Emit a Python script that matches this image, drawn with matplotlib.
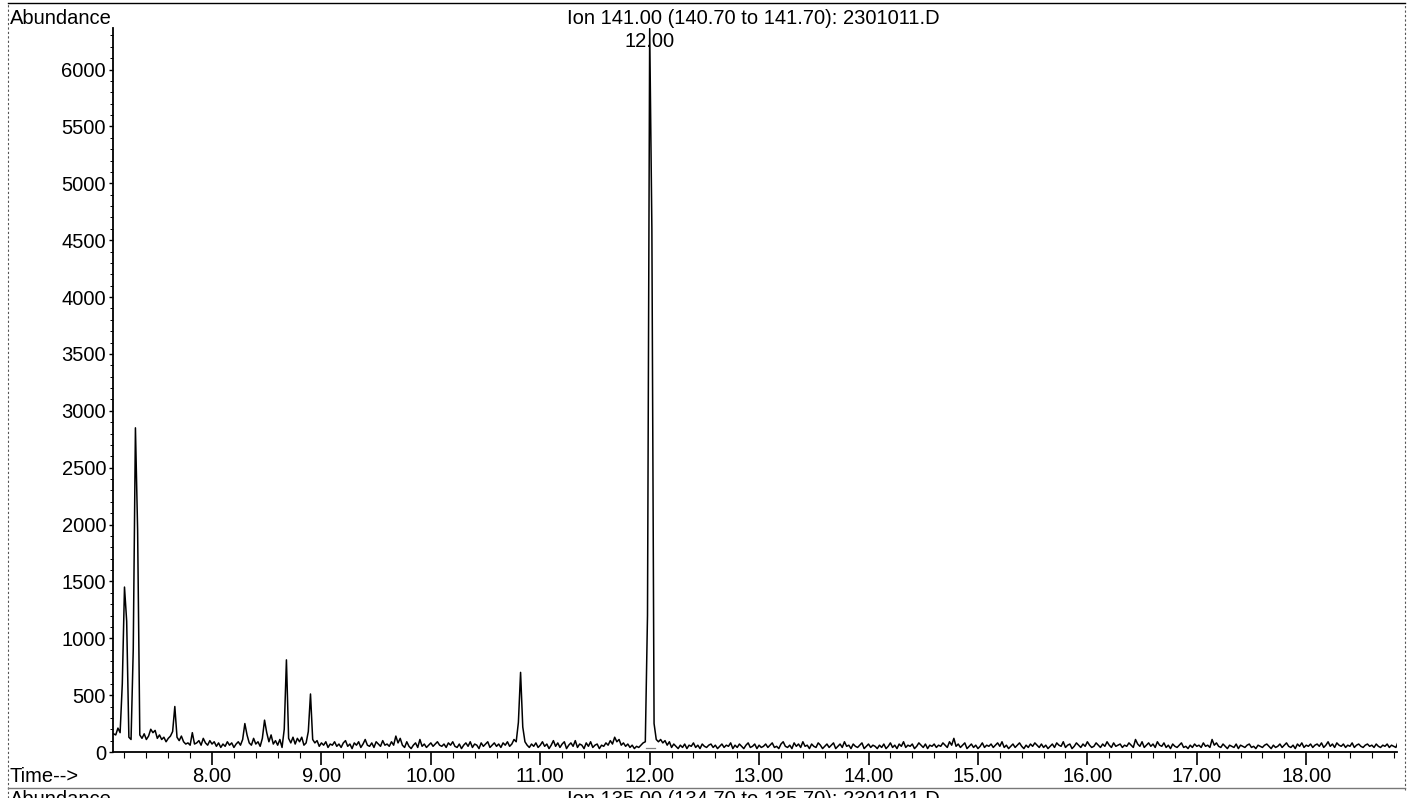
import matplotlib.pyplot as plt
import numpy as np
from matplotlib.lines import Line2D
from matplotlib.ticker import MultipleLocator

plt.rcParams['font.family'] = ['Liberation Sans', 'DejaVu Sans']

# scans every 0.02 min from 7.10 to 18.84, abundance
scan_start = 7.10
scan_step = 0.02
abundance = [
    160, 150, 210, 170, 600, 1450, 1150, 130, 110, 900, 2850, 1950, 150, 120, 160, 110, 140, 200, 170, 190, 120, 150, 110, 130, 90,
    120, 140, 180, 400, 130, 100, 140, 90, 70, 80, 60, 170, 70, 80, 100, 60, 120, 80, 60, 100, 70, 90, 50, 80, 40,
    70, 50, 90, 60, 80, 40, 70, 90, 60, 110, 250, 150, 80, 60, 120, 70, 90, 50, 120, 280, 170, 90, 150, 70, 100,
    60, 110, 40, 200, 810, 120, 80, 130, 70, 120, 90, 130, 60, 80, 180, 510, 110, 80, 100, 50, 80, 60, 90, 40, 70,
    60, 90, 50, 70, 40, 80, 100, 50, 70, 30, 80, 60, 90, 40, 70, 110, 60, 50, 80, 40, 90, 70, 50, 100, 60,
    70, 50, 90, 60, 140, 80, 120, 60, 40, 90, 50, 30, 60, 80, 40, 110, 50, 70, 40, 60, 80, 50, 70, 90, 60,
    50, 70, 40, 80, 60, 90, 50, 40, 70, 30, 60, 80, 50, 90, 40, 70, 60, 30, 80, 50, 70, 90, 40, 60, 80,
    50, 70, 40, 80, 60, 90, 50, 70, 110, 90, 260, 700, 220, 90, 60, 40, 70, 50, 80, 40, 60, 90, 50, 70, 30,
    60, 100, 50, 80, 40, 70, 90, 30, 60, 80, 50, 100, 40, 70, 60, 30, 80, 50, 90, 40, 60, 70, 30, 60, 50,
    80, 60, 100, 70, 130, 90, 110, 60, 80, 50, 70, 40, 60, 30, 50, 40, 60, 80, 90, 1200, 6360, 4600, 250, 110, 90,
    110, 80, 100, 60, 90, 40, 70, 50, 30, 60, 40, 70, 30, 60, 50, 80, 40, 60, 30, 70, 50, 40, 60, 70, 40,
    60, 30, 50, 70, 40, 60, 50, 80, 30, 60, 40, 70, 50, 30, 60, 80, 40, 50, 70, 30, 60, 40, 50, 70, 40,
    60, 80, 40, 50, 30, 70, 90, 50, 40, 60, 30, 80, 50, 70, 40, 90, 50, 60, 30, 70, 50, 40, 80, 60, 30,
    50, 70, 40, 60, 80, 30, 50, 70, 40, 90, 50, 60, 30, 70, 50, 40, 60, 80, 30, 50, 70, 40, 60, 50, 30,
    60, 40, 70, 30, 50, 80, 40, 60, 30, 70, 50, 90, 40, 60, 50, 70, 30, 50, 80, 60, 40, 70, 30, 60, 50,
    70, 40, 60, 50, 80, 60, 40, 90, 60, 120, 50, 70, 40, 60, 80, 30, 50, 70, 40, 60, 30, 50, 80, 40, 60,
    50, 70, 40, 60, 80, 50, 90, 40, 60, 30, 50, 70, 40, 60, 80, 50, 30, 60, 40, 70, 50, 80, 60, 40, 70,
    40, 60, 30, 50, 70, 40, 80, 60, 50, 90, 40, 60, 70, 30, 50, 80, 60, 40, 70, 50, 90, 60, 40, 50, 80,
    60, 40, 70, 50, 90, 60, 40, 80, 50, 60, 70, 40, 60, 50, 80, 60, 40, 110, 70, 50, 90, 40, 60, 80, 50,
    70, 40, 90, 60, 50, 80, 40, 60, 30, 70, 50, 40, 60, 80, 40, 50, 30, 60, 40, 70, 50, 60, 40, 80, 50,
    60, 40, 110, 60, 80, 50, 40, 70, 50, 30, 60, 50, 40, 70, 30, 60, 50, 40, 60, 70, 40, 50, 30, 60, 50,
    40, 60, 70, 50, 30, 60, 40, 50, 70, 40, 60, 80, 50, 40, 60, 30, 70, 50, 80, 40, 60, 50, 70, 40, 60,
    70, 50, 80, 40, 60, 90, 50, 70, 40, 80, 60, 50, 70, 40, 60, 50, 80, 40, 60, 70, 50, 40, 60, 70, 50,
    60, 40, 70, 50, 40, 60, 50, 70, 40, 60, 50, 40, 90,
]

peak_label_time = 12.00
peak_label = '12.00'
integ_start, integ_end, integ_level = 11.97, 12.05, 35

title = 'Ion 141.00 (140.70 to 141.70): 2301011.D'
next_title = 'Ion 135.00 (134.70 to 135.70): 2301011.D'
y_ticks = list(range(0, 6001, 500))
x_ticks = [8.0, 9.0, 10.0, 11.0, 12.0, 13.0, 14.0, 15.0, 16.0, 17.0, 18.0]
x_tick_labels = ['8.00', '9.00', '10.00', '11.00', '12.00', '13.00', '14.00', '15.00', '16.00', '17.00', '18.00']

times = scan_start + scan_step * np.arange(len(abundance))

W, H = 1410, 798
fig = plt.figure(figsize=(W / 100, H / 100), dpi=100)
ax = fig.add_axes([113 / W, 1 - 752 / H, (1397 - 113) / W, (752 - 28) / H])

ax.plot(times, abundance, color='black', lw=1.1)
ax.plot([integ_start, integ_end], [integ_level, integ_level], color='#808080', lw=0.9)

ax.set_xlim(7.095, 18.83)
ax.set_ylim(0, 6365)
for s in ['top', 'right']:
    ax.spines[s].set_visible(False)
for s in ['left', 'bottom']:
    ax.spines[s].set_linewidth(1.3)

ax.set_xticks(x_ticks)
ax.set_xticklabels(x_tick_labels)
ax.set_yticks(y_ticks)
ax.xaxis.set_minor_locator(MultipleLocator(0.2))
ax.yaxis.set_minor_locator(MultipleLocator(100))
ax.tick_params(axis='x', which='major', length=9, width=1.2, pad=2, labelsize=14.5)
ax.tick_params(axis='x', which='minor', length=4.5, width=0.8)
ax.tick_params(axis='y', which='major', length=3, width=1, pad=2, labelsize=14.5)
ax.tick_params(axis='y', which='minor', length=2, width=0.7)

ax.text(peak_label_time, 6250, peak_label, ha='center', va='center', fontsize=14.5)

fig.text(10 / W, 1 - 18 / H, 'Abundance', ha='left', va='center', fontsize=14.5)
fig.text(753 / W, 1 - 18 / H, title, ha='center', va='center', fontsize=14.5)
fig.text(10 / W, 1 - 776 / H, 'Time-->', ha='left', va='center', fontsize=14.5)
# next ion panel starts below the page edge, only its top shows
fig.text(10 / W, 1 - 790 / H, 'Abundance', ha='left', va='top', fontsize=14.5)
fig.text(753 / W, 1 - 790 / H, next_title, ha='center', va='top', fontsize=14.5)

# page frame around the printout
fig.add_artist(Line2D([8 / W, 1405 / W], [1 - 3 / H, 1 - 3 / H], transform=fig.transFigure, color='black', lw=1))
fig.add_artist(Line2D([8 / W, 8 / W], [0, 1 - 3 / H], transform=fig.transFigure, color='#555555', lw=0.8, ls=(0, (2, 2))))
fig.add_artist(Line2D([1405 / W, 1405 / W], [1 - 790 / H, 1 - 5 / H], transform=fig.transFigure, color='#555555', lw=0.8, ls=(0, (2, 2))))
fig.add_artist(Line2D([8 / W, 1405 / W], [1 - 788 / H, 1 - 788 / H], transform=fig.transFigure, color='#777777', lw=1))

fig.savefig('out.png', dpi=100)
